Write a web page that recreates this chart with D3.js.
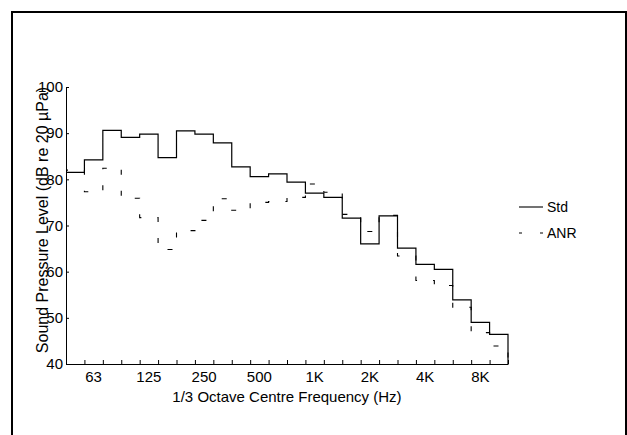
<!DOCTYPE html>
<html>
<head>
<meta charset="utf-8">
<script src="https://cdn.jsdelivr.net/npm/d3@7"></script>
<style>
  body { margin: 0; background: #fff; }
  text { font-family: "Liberation Sans", Arial, sans-serif; font-size: 14px; fill: #000; }
</style>
</head>
<body>
<svg id="chart" width="627" height="435"></svg>
<script>
// 1/3 octave bands, 50 Hz .. 10 kHz
var bands = ["50", "63", "80", "100", "125", "160", "200", "250", "315", "400", "500", "630",
  "800", "1K", "1.25K", "1.6K", "2K", "2.5K", "3.15K", "4K", "5K", "6.3K", "8K", "10K"];
var tickLabels = ["63", "125", "250", "500", "1K", "2K", "4K", "8K"];
var yTicks = [40, 50, 60, 70, 80, 90, 100];

var std = [81.5, 84.2, 90.6, 89.1, 89.8, 84.7, 90.5, 89.8, 87.9, 82.7, 80.6, 81.2,
  79.4, 77.0, 76.1, 71.6, 66.0, 72.1, 65.1, 61.6, 60.5, 53.9, 49.0, 46.4];
var anr = [82.0, 77.3, 82.4, 75.9, 71.7, 64.8, 68.9, 71.1, 75.8, 73.3, 75.0, 75.2,
  76.1, 79.0, 77.2, 72.4, 68.7, 72.2, 63.4, 58.1, 57.0, 52.3, 46.8, 43.9];

(function() {
  var svg, x, y, stairs, line, g;

  svg = d3.select('#chart');

  // figure frame (bottom edge falls outside the picture)
  svg.append("path")
    .attr("d", "M12,435V12H626V435")
    .attr("fill", "none").attr("stroke", "#000").attr("stroke-width", 2);

  x = d3.scaleLinear().domain([0, bands.length]).range([66, 508]);
  y = d3.scaleLinear().domain([40, 100]).range([364, 87]);

  // staircase points, ending with a drop to the axis
  stairs = function(vals) {
    var pts = vals.map(function(v, i) { return [i, v]; });
    pts.push([vals.length, vals[vals.length - 1]]);
    pts.push([vals.length, 40]);
    return pts;
  };

  line = d3.line()
    .x(function(d) { return x(d[0]); })
    .y(function(d) { return y(d[1]); })
    .curve(d3.curveStepAfter);

  svg.append("path").datum(stairs(anr))
    .attr("d", line).attr("fill", "none")
    .attr("stroke", "#000").attr("stroke-width", 1.1)
    .attr("stroke-dasharray", "5,16").attr("stroke-dashoffset", 3);

  svg.append("path").datum(stairs(std))
    .attr("d", line).attr("fill", "none")
    .attr("stroke", "#000").attr("stroke-width", 1.2);

  // y axis, ticks pointing inward
  g = svg.append("g").attr("transform", "translate(66,0)")
    .call(d3.axisLeft(y).tickValues(yTicks).tickSizeInner(-3).tickSizeOuter(0).tickPadding(3));
  g.selectAll("text").style("font-size", "15px").style("font-family", null);

  // x axis, tick at each band edge
  g = svg.append("g").attr("transform", "translate(0,364)")
    .call(d3.axisBottom(x).tickValues(d3.range(0, bands.length + 1)).tickSizeInner(-4).tickSizeOuter(0).tickFormat(""));

  svg.selectAll(".domain, .tick line").attr("stroke", "#000");

  svg.append("g").selectAll("text").data(tickLabels).enter().append("text")
    .attr("x", function(d) { return x(bands.indexOf(d) + 0.5); })
    .attr("y", 382)
    .attr("text-anchor", "middle")
    .style("font-size", "15px")
    .text(function(d) { return d; });

  svg.append("text")
    .attr("x", (x.range()[0] + x.range()[1]) / 2).attr("y", 402)
    .attr("text-anchor", "middle")
    .style("font-size", "15px")
    .text("1/3 Octave Centre Frequency (Hz)");

  svg.append("text")
    .attr("transform", "translate(48,220) rotate(-90)")
    .attr("text-anchor", "middle")
    .style("font-size", "16px")
    .text("Sound Pressure Level (dB re 20 \u00b5Pa)");

  // legend
  svg.append("line").attr("x1", 519).attr("x2", 543).attr("y1", 207).attr("y2", 207)
    .attr("stroke", "#000").attr("stroke-width", 1.1);
  svg.append("line").attr("x1", 519).attr("x2", 543).attr("y1", 233).attr("y2", 233)
    .attr("stroke", "#000").attr("stroke-width", 1.1).attr("stroke-dasharray", "3,18");
  svg.append("text").attr("x", 547).attr("y", 212).text("Std");
  svg.append("text").attr("x", 547).attr("y", 238).text("ANR");
}).call(this);
</script>
</body>
</html>
